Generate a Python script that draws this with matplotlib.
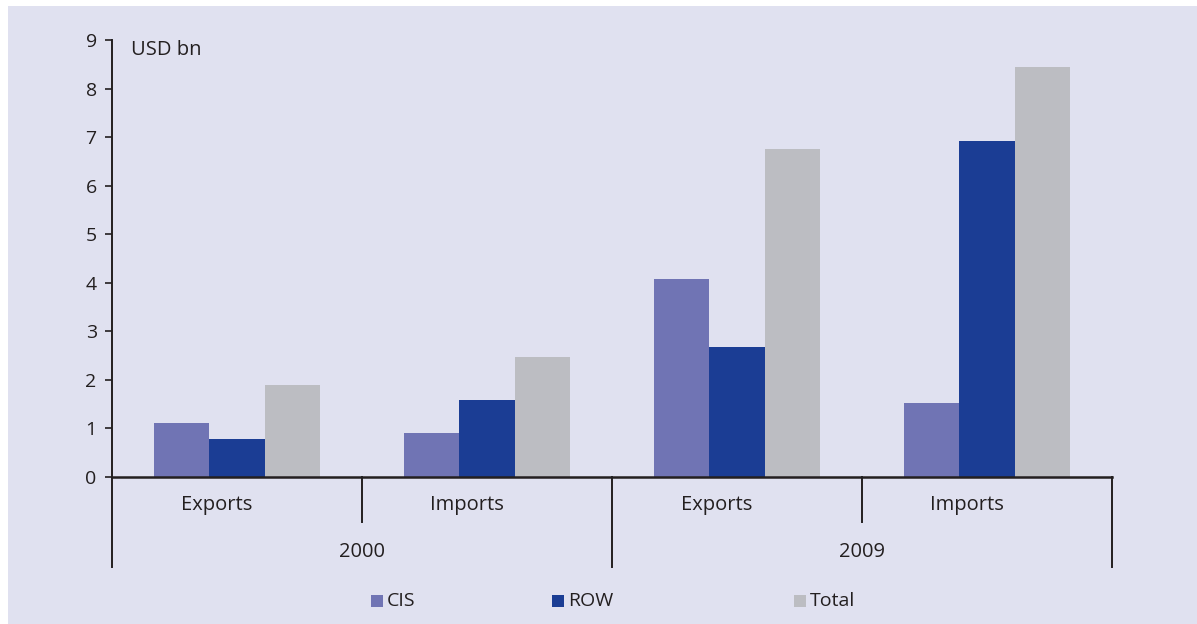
import numpy as np
import matplotlib.pyplot as plt
from matplotlib.patches import Rectangle

plt.rcParams['font.family'] = ['Open Sans', 'DejaVu Sans']

# trade flows, USD bn
flows = ["Exports", "Imports", "Exports", "Imports"]
years = ["2000", "2009"]
cis = [1.11, 0.91, 4.08, 1.52]
row = [0.78, 1.59, 2.68, 6.92]
total = [1.89, 2.47, 6.75, 8.44]
series = ["CIS", "ROW", "Total"]
colors = ["#7074b4", "#1b3d94", "#bcbdc2"]

bg = "#e0e1f0"
ink = "#231f20"

fig = plt.figure(figsize=(11.97, 6.24), dpi=100)
fig.patch.set_facecolor("white")
fig.patches.append(Rectangle((8 / 1197, 0), 1, 1 - 6 / 624, transform=fig.transFigure,
                             facecolor=bg, edgecolor="none", zorder=-10))

ax = fig.add_axes([112 / 1197, 1 - 477 / 624, 1000 / 1197, 437 / 624])
ax.set_facecolor(bg)

x = np.arange(len(flows))
w = 0.222
for i, (vals, c) in enumerate(zip([cis, row, total], colors)):
    ax.bar(x + (i - 1) * w, vals, width=w, color=c, linewidth=0, zorder=2)

ax.set_xlim(-0.5, 3.5)
ax.set_ylim(0, 9)
ax.set_yticks(range(10))
ax.tick_params(axis="y", direction="out", length=5, width=1.2, color=ink,
               labelsize=14, labelcolor=ink, pad=6)
ax.set_xticks([])

for s in ["top", "right"]:
    ax.spines[s].set_visible(False)
ax.spines["left"].set_color(ink)
ax.spines["left"].set_linewidth(1.4)
ax.spines["bottom"].set_color(ink)
ax.spines["bottom"].set_linewidth(1.8)
ax.spines["bottom"].set_zorder(3)

# category separators below the axis
trans = ax.get_xaxis_transform()
ax.plot([-0.5, -0.5], [0, -0.206], transform=trans, color=ink, lw=1.4, clip_on=False)
for xb in [0.5, 2.5]:
    ax.plot([xb, xb], [0, -0.103], transform=trans, color=ink, lw=1.4, clip_on=False)
for xb in [1.5, 3.5]:
    ax.plot([xb, xb], [0, -0.206], transform=trans, color=ink, lw=1.4, clip_on=False)

for xi, lab in zip(x, flows):
    ax.text(xi - 0.08, -0.064, lab, transform=trans, ha="center", va="center",
            fontsize=14.5, color=ink)
for j, yr in enumerate(years):
    ax.text(2 * j + 0.5, -0.172, yr, transform=trans, ha="center", va="center",
            fontsize=14.5, color=ink)

ax.text(131 / 1197, 1 - 50 / 624, "USD bn", transform=fig.transFigure,
        ha="left", va="center", fontsize=14.5, color=ink)

# legend
leg_x = [371, 552, 794]
for lx, name, c in zip(leg_x, series, colors):
    fig.patches.append(Rectangle((lx / 1197, 1 - 607 / 624), 12 / 1197, 12 / 624,
                                 transform=fig.transFigure, facecolor=c,
                                 edgecolor="none"))
    fig.text((lx + 16) / 1197, 1 - 601 / 624, name, ha="left", va="center",
             fontsize=14, color=ink)

fig.savefig("out.png", dpi=100, facecolor=fig.get_facecolor())
